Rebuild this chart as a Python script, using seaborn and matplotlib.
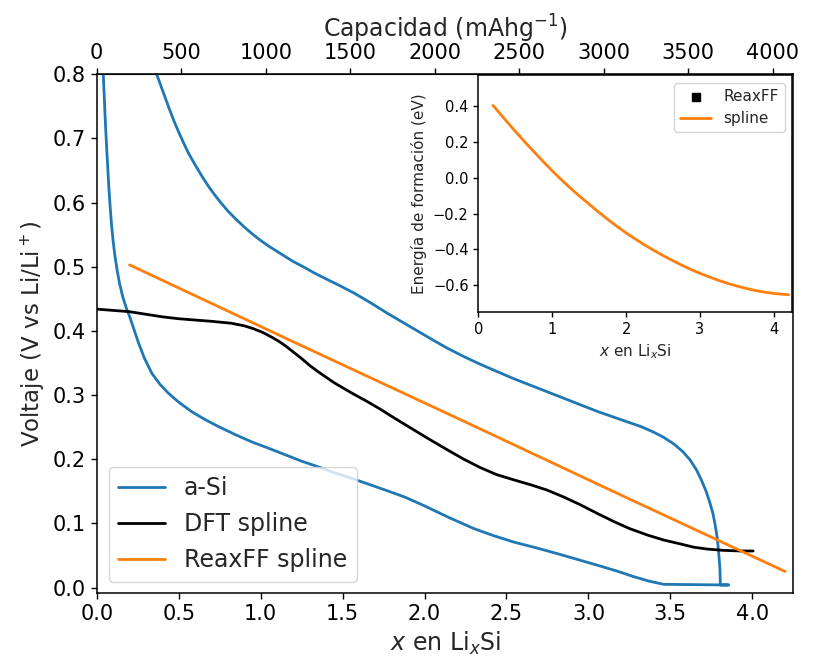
import matplotlib
matplotlib.use("Agg")
import matplotlib.pyplot as plt
import seaborn as sns
import pandas as pd

# ---------------- data ----------------
# a-Si: discharge (lower branch) then charge (upper branch)
asi_x = [0.040, 0.045, 0.050, 0.055, 0.060, 0.066, 0.072, 0.080, 0.090, 0.100,
         0.112, 0.125, 0.140, 0.160, 0.180, 0.200, 0.225, 0.254, 0.290, 0.336,
         0.385, 0.437, 0.500, 0.580, 0.660, 0.742, 0.840, 0.946, 1.050, 1.150,
         1.250, 1.353, 1.450, 1.557, 1.660, 1.760, 1.880, 1.994, 2.150, 2.300,
         2.420, 2.543, 2.680, 2.808, 2.930, 3.052, 3.170, 3.276, 3.370, 3.459,
         3.856,
         3.805, 3.802, 3.795, 3.787, 3.775, 3.760, 3.740, 3.718, 3.690, 3.660,
         3.620, 3.575, 3.520, 3.460, 3.400, 3.320, 3.240, 3.150, 3.050, 2.950,
         2.850, 2.750, 2.640, 2.540, 2.440, 2.340, 2.240, 2.140, 2.050, 1.970,
         1.870, 1.770, 1.670, 1.570, 1.480, 1.400, 1.330, 1.260, 1.200, 1.150,
         1.100, 1.050, 1.000, 0.950, 0.900, 0.850, 0.800, 0.760, 0.720, 0.680,
         0.640, 0.600, 0.560, 0.530, 0.500, 0.470, 0.440, 0.420, 0.390, 0.366]
asi_v = [0.800, 0.770, 0.740, 0.713, 0.688, 0.660, 0.632, 0.600, 0.566, 0.540,
         0.515, 0.494, 0.473, 0.452, 0.436, 0.423, 0.404, 0.382, 0.358, 0.334,
         0.317, 0.303, 0.289, 0.274, 0.262, 0.251, 0.239, 0.227, 0.217, 0.207,
         0.197, 0.188, 0.179, 0.170, 0.161, 0.152, 0.141, 0.128, 0.109, 0.092,
         0.081, 0.071, 0.062, 0.053, 0.044, 0.035, 0.026, 0.017, 0.010, 0.005,
         0.004,
         0.004, 0.030, 0.053, 0.075, 0.095, 0.115, 0.133, 0.150, 0.167, 0.183,
         0.199, 0.212, 0.224, 0.234, 0.242, 0.251, 0.258, 0.266, 0.275, 0.285,
         0.295, 0.305, 0.316, 0.326, 0.337, 0.348, 0.360, 0.373, 0.386, 0.398,
         0.413, 0.428, 0.444, 0.459, 0.471, 0.481, 0.490, 0.500, 0.508, 0.516,
         0.524, 0.532, 0.541, 0.551, 0.562, 0.574, 0.587, 0.599, 0.612, 0.626,
         0.642, 0.659, 0.677, 0.693, 0.710, 0.728, 0.748, 0.762, 0.783, 0.800]

dft_x = [0.000, 0.100, 0.200, 0.300, 0.400, 0.500, 0.600, 0.700, 0.820, 0.900,
         0.950, 1.010, 1.070, 1.110, 1.150, 1.200, 1.250, 1.300, 1.353, 1.450,
         1.557, 1.650, 1.730, 1.830, 1.933, 2.030, 2.137, 2.240, 2.340, 2.440,
         2.543, 2.650, 2.747, 2.850, 2.951, 3.050, 3.154, 3.250, 3.358, 3.460,
         3.561, 3.640, 3.724, 3.820, 3.927, 4.005]
dft_v = [0.434, 0.432, 0.430, 0.426, 0.422, 0.419, 0.417, 0.415, 0.412, 0.408,
         0.404, 0.398, 0.390, 0.384, 0.377, 0.367, 0.357, 0.346, 0.336, 0.319,
         0.303, 0.290, 0.278, 0.262, 0.246, 0.231, 0.215, 0.200, 0.187, 0.176,
         0.168, 0.160, 0.152, 0.141, 0.129, 0.116, 0.103, 0.092, 0.082, 0.074,
         0.068, 0.063, 0.060, 0.058, 0.057, 0.057]

reax_x = [0.2, 1.2, 2.2, 3.2, 4.2]
reax_v = [0.503, 0.383, 0.264, 0.144, 0.025]

# inset: formation energy
ef_x = [0.20, 0.35, 0.50, 0.625, 0.75, 0.875, 1.00, 1.125, 1.25, 1.375, 1.50,
        1.625, 1.75, 1.875, 2.00, 2.125, 2.25, 2.375, 2.50, 2.625, 2.75,
        2.875, 3.00, 3.125, 3.25, 3.375, 3.50, 3.625, 3.75, 3.875, 4.00, 4.10,
        4.20]
ef_y = [0.402, 0.329, 0.258, 0.201, 0.145, 0.091, 0.038, -0.012, -0.060,
        -0.105, -0.148, -0.191, -0.232, -0.271, -0.308, -0.342, -0.375,
        -0.405, -0.434, -0.461, -0.487, -0.511, -0.533, -0.553, -0.572,
        -0.589, -0.604, -0.617, -0.629, -0.638, -0.645, -0.649, -0.652]
reaxff_pts_x = []
reaxff_pts_y = []

cap_ticks = [0, 500, 1000, 1500, 2000, 2500, 3000, 3500, 4000]
CAP_PER_X = 970.0

# ---------------- style ----------------
sns.set_style("ticks")
plt.rcParams['font.family'] = ['DejaVu Sans']
plt.rcParams['mathtext.fontset'] = 'dejavusans'
plt.rcParams['axes.edgecolor'] = 'black'
plt.rcParams['xtick.color'] = 'black'
plt.rcParams['ytick.color'] = 'black'

fig = plt.figure(figsize=(8.15, 6.63), dpi=100)
ax = fig.add_axes([0.1187, 0.1051, 0.8547, 0.7828])

blue = '#1f77b4'
orange = '#ff7f0e'

df_asi = pd.DataFrame({'x': asi_x, 'v': asi_v})
df_dft = pd.DataFrame({'x': dft_x, 'v': dft_v})
df_reax = pd.DataFrame({'x': reax_x, 'v': reax_v})

sns.lineplot(data=df_asi, x='x', y='v', sort=False, estimator=None, ax=ax,
             color=blue, lw=2, label='a-Si')
sns.lineplot(data=df_dft, x='x', y='v', sort=False, estimator=None, ax=ax,
             color='black', lw=2, label='DFT spline')
sns.lineplot(data=df_reax, x='x', y='v', sort=False, estimator=None, ax=ax,
             color=orange, lw=2, label='ReaxFF spline')

ax.set_xlim(0, 4.25)
ax.set_ylim(-0.009, 0.8)
ax.set_xlabel('$x$ en Li$_x$Si', fontsize=17)
ax.set_ylabel('Voltaje (V vs Li/Li$^+$)', fontsize=16.5)
ax.tick_params(labelsize=15, direction='out', length=4.5, width=1)
for s in ax.spines.values():
    s.set_visible(True)
    s.set_linewidth(1.1)
ax.legend(loc='lower left', fontsize=17, frameon=True)

sec = ax.secondary_xaxis('top', functions=(lambda x: x * CAP_PER_X,
                                           lambda c: c / CAP_PER_X))
sec.set_xticks(cap_ticks)
sec.set_xticklabels([str(c) for c in cap_ticks])
sec.set_xlabel('Capacidad (mAhg$^{-1}$)', fontsize=17)
sec.tick_params(labelsize=15, length=4.5, width=1)

# ---------------- inset ----------------
ins = fig.add_axes([0.5869, 0.529, 0.3853, 0.358])
ins.scatter(reaxff_pts_x, reaxff_pts_y, marker='s', color='black', s=30,
            label='ReaxFF')
df_ef = pd.DataFrame({'x': ef_x, 'e': ef_y})
sns.lineplot(data=df_ef, x='x', y='e', sort=False, estimator=None, ax=ins,
             color=orange, lw=2, label='spline')
ins.set_xlim(0, 4.25)
ins.set_ylim(-0.75, 0.572)
ins.set_xlabel('$x$ en Li$_x$Si', fontsize=11)
ins.set_ylabel('Energía de formación (eV)', fontsize=11)
ins.tick_params(labelsize=10.5, length=3.5, width=1)
for s in ins.spines.values():
    s.set_visible(True)
    s.set_linewidth(1.1)
ins.legend(loc='upper right', fontsize=11, frameon=True)

fig.savefig('out.png', dpi=100)
